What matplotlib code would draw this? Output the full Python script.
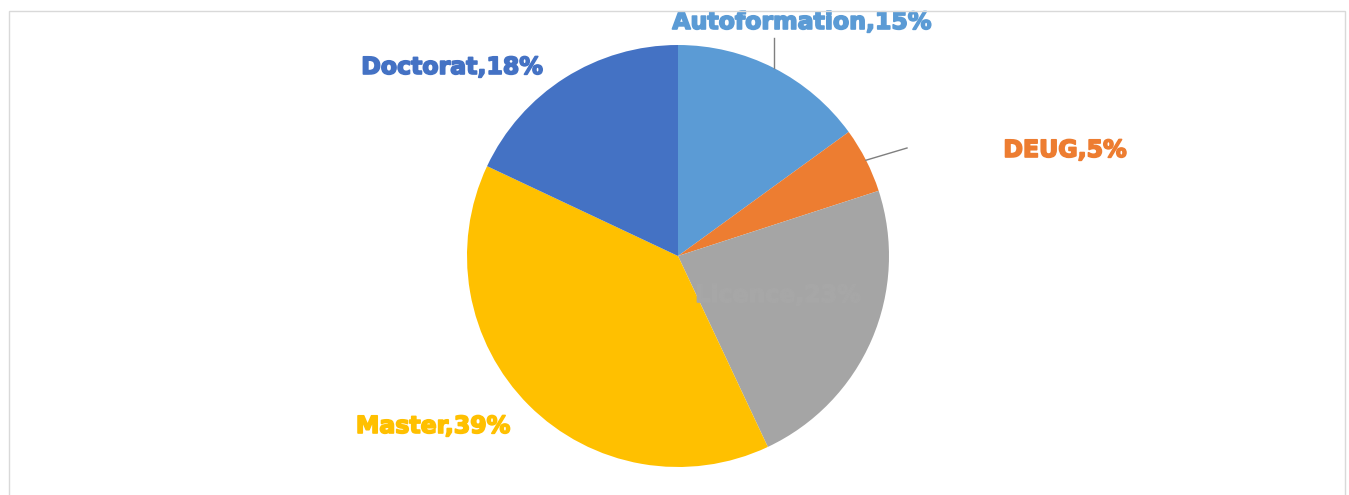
import numpy as np
import matplotlib
matplotlib.use("Agg")
import matplotlib.pyplot as plt
import matplotlib.patheffects as pe
from matplotlib.patches import Rectangle

# data
labels = ["Autoformation", "DEUG", "Licence", "Master", "Doctorat"]
values = [15, 5, 23, 39, 18]
colors = ["#5B9BD5", "#ED7D31", "#A5A5A5", "#FFC000", "#4472C4"]
label_colors = ["#5B9BD5", "#ED7D31", "#A7A7A7", "#FFC000", "#4472C4"]

W, H = 1349, 495
fig = plt.figure(figsize=(W / 100, H / 100), dpi=100)
ax = fig.add_axes([0, 0, 1, 1])

cx, cy, r = 678, H - 256, 211                      # pie centre / radius in pixels
wedges, _ = ax.pie(values, colors=colors, startangle=90, counterclock=False,
                   center=(cx, cy), radius=r,
                   wedgeprops=dict(linewidth=0))
ax.set_xlim(0, W)
ax.set_ylim(0, H)
ax.set_aspect("equal")
ax.axis("off")

# label positions (pixel coords from top-left)
label_pos = [(802, 22), (1065, 150), (778, 295), (433, 426), (452, 67)]
for w, lab, v, c, (x, y) in zip(wedges, labels, values, label_colors, label_pos):
    ax.text(x, H - y, f"{lab},{v}%", color=c, fontsize=17, fontweight="bold",
            ha="center", va="center", family="DejaVu Sans",
            path_effects=[pe.withStroke(linewidth=1.2, foreground=c)])

# leader lines for the two small outside labels
def edge_point(w):
    a = np.deg2rad((w.theta1 + w.theta2) / 2)
    return cx + r * np.cos(a), cy + r * np.sin(a)

x0, y0 = edge_point(wedges[0])
ax.plot([x0, x0], [y0, H - 38], color="#7F7F7F", lw=1)
x1, y1 = edge_point(wedges[1])
ax.plot([x1, 907], [y1, H - 148], color="#7F7F7F", lw=1)

# light chart frame
fig.patches.append(Rectangle((9 / W, -0.01), (1345 - 9) / W, (H - 11) / H + 0.01,
                             transform=fig.transFigure, fill=False,
                             edgecolor="#D9D9D9", lw=1))

fig.savefig("out.png", dpi=100)
